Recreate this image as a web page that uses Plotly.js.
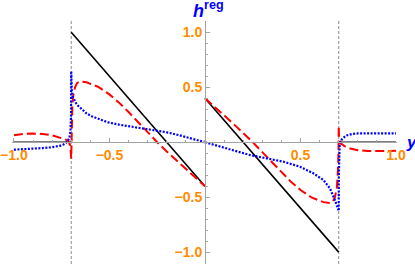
<!DOCTYPE html>
<html>
<head>
<meta charset="utf-8">
<script src="https://cdn.plot.ly/plotly-3.0.1.min.js"></script>
<style>html,body{margin:0;padding:0;background:#fff;}#chart{width:415px;height:265px;}</style>
</head>
<body>
<div id="chart"></div>
<script>
// Black (solid) piecewise curve
const blackX = [-1, -0.7, null, -0.7, 0, null, 0, 0.7, null, 0.7, 1];
const blackY = [0, 0, null, 1.0, -0.4, null, 0.4, -1.0, null, 0, 0];

// Red (dashed) curve, left half and right half
const redLeftX = [-1, -0.95, -0.9, -0.85, -0.8, -0.76, -0.73, -0.715, -0.705, -0.7, -0.699, -0.697, -0.694, -0.69, -0.68, -0.67, -0.655, -0.62, -0.56, -0.5, -0.45, -0.4, -0.35, -0.3, -0.25, -0.2, -0.15, -0.1, -0.05, 0];
const redLeftY = [0.064, 0.075, 0.079, 0.075, 0.063, 0.045, 0.025, 0.01, -0.03, -0.15, 0.05, 0.22, 0.34, 0.42, 0.5, 0.538, 0.553, 0.545, 0.505, 0.435, 0.36, 0.275, 0.18, 0.09, 0.0, -0.085, -0.165, -0.245, -0.325, -0.4];
const redRightX = [0, 0.05, 0.1, 0.15, 0.2, 0.25, 0.3, 0.35, 0.4, 0.45, 0.5, 0.56, 0.62, 0.655, 0.67, 0.68, 0.69, 0.694, 0.697, 0.699, 0.7, 0.702, 0.71, 0.73, 0.76, 0.8, 0.85, 0.9, 0.95, 1];
const redRightY = [0.4, 0.325, 0.245, 0.165, 0.085, 0.0, -0.09, -0.18, -0.275, -0.36, -0.435, -0.505, -0.545, -0.553, -0.538, -0.5, -0.42, -0.34, -0.22, -0.05, 0.15, 0.03, -0.01, -0.035, -0.058, -0.072, -0.08, -0.082, -0.08, -0.077];

// Blue (dotted) curve, left half and right half
const blueLeftX = [-1, -0.95, -0.9, -0.85, -0.8, -0.76, -0.74, -0.72, -0.71, -0.704, -0.701, -0.7, -0.6995, -0.699, -0.697, -0.693, -0.685, -0.675, -0.663, -0.64, -0.62, -0.593, -0.55, -0.506, -0.45, -0.384, -0.32, -0.262, -0.2, -0.14, -0.07, 0];
const blueLeftY = [-0.068, -0.064, -0.059, -0.053, -0.045, -0.033, -0.02, 0.005, 0.04, 0.1, 0.25, 0.645, 0.56, 0.5, 0.46, 0.42, 0.385, 0.355, 0.33, 0.29, 0.262, 0.236, 0.205, 0.18, 0.16, 0.142, 0.125, 0.11, 0.09, 0.066, 0.035, 0];
const blueRightX = [0, 0.07, 0.147, 0.236, 0.323, 0.41, 0.497, 0.567, 0.62, 0.654, 0.68, 0.69, 0.697, 0.7, 0.7005, 0.702, 0.705, 0.71, 0.72, 0.742, 0.77, 0.8, 0.85, 0.9, 0.95, 1];
const blueRightY = [0, -0.035, -0.071, -0.117, -0.147, -0.177, -0.223, -0.283, -0.344, -0.42, -0.526, -0.58, -0.61, -0.625, -0.3, -0.1, -0.02, 0.01, 0.035, 0.062, 0.075, 0.08, 0.082, 0.082, 0.081, 0.08];

// Axis ticks
const tickVals = [-1, -0.5, 0.5, 1];
const tickText = ['\u22121.0', '\u22120.5', '0.5', '1.0'];
const singularX = [-0.7, 0.7];

const orange = '#FF8C00';
const blue = '#0000FF';
const axisGray = '#a3a3a3';

const traces = [
  {x: blackX, y: blackY, mode: 'lines', line: {color: '#000000', width: 1.6}, connectgaps: false, hoverinfo: 'skip'},
  {x: redLeftX, y: redLeftY, mode: 'lines', line: {color: '#FF0000', width: 2, dash: '9px,4px'}, hoverinfo: 'skip'},
  {x: redRightX, y: redRightY, mode: 'lines', line: {color: '#FF0000', width: 2, dash: '9px,4px'}, hoverinfo: 'skip'},
  {x: blueLeftX, y: blueLeftY, mode: 'lines', line: {color: blue, width: 2.2, dash: '2px,1.5px'}, hoverinfo: 'skip'},
  {x: blueRightX, y: blueRightY, mode: 'lines', line: {color: blue, width: 2.2, dash: '2px,1.5px'}, hoverinfo: 'skip'}
];

const tickFont = {family: 'Liberation Sans, Arial, sans-serif', size: 14, color: orange, weight: 'bold'};

const axisCommon = {
  showgrid: false, zeroline: false, showline: true, linecolor: axisGray, linewidth: 1,
  tickmode: 'array', tickvals: tickVals, ticktext: tickText,
  ticks: 'inside', ticklen: 4, tickwidth: 1, tickcolor: axisGray,
  tickfont: tickFont, anchor: 'free', layer: 'above traces', automargin: false,
  minor: {dtick: 0.1, tick0: 0, ticks: 'inside', ticklen: 2.5, tickwidth: 1, tickcolor: axisGray}
};

const layout = {
  width: 415, height: 265,
  margin: {l: 12, r: 18, t: 21, b: 1, pad: 0},
  paper_bgcolor: '#ffffff', plot_bgcolor: '#ffffff',
  showlegend: false,
  xaxis: Object.assign({}, axisCommon, {range: [-1.01, 1.005], position: 0.5011, side: 'bottom'}),
  yaxis: Object.assign({}, axisCommon, {range: [-1.108, 1.103], position: 0.50124, side: 'left'}),
  shapes: singularX.map(v => ({type: 'line', xref: 'x', yref: 'paper', x0: v, x1: v, y0: 0, y1: 1, line: {color: '#8c8c8c', width: 1, dash: '3px,2px'}, layer: 'below'})),
  annotations: [
    {xref: 'paper', yref: 'paper', x: 0.465, y: 0.99, xanchor: 'left', yanchor: 'bottom', showarrow: false,
     text: '<b><i>h</i><sup>reg</sup></b>', font: {family: 'Liberation Sans, Arial, sans-serif', size: 18, color: blue}},
    {xref: 'paper', yref: 'paper', x: 1.018, y: 0.5, xanchor: 'left', yanchor: 'middle', showarrow: false,
     text: '<b><i>y</i></b>', font: {family: 'Liberation Sans, Arial, sans-serif', size: 17, color: blue}}
  ]
};

Plotly.newPlot('chart', traces, layout, {staticPlot: true, displayModeBar: false});
</script>
</body>
</html>
